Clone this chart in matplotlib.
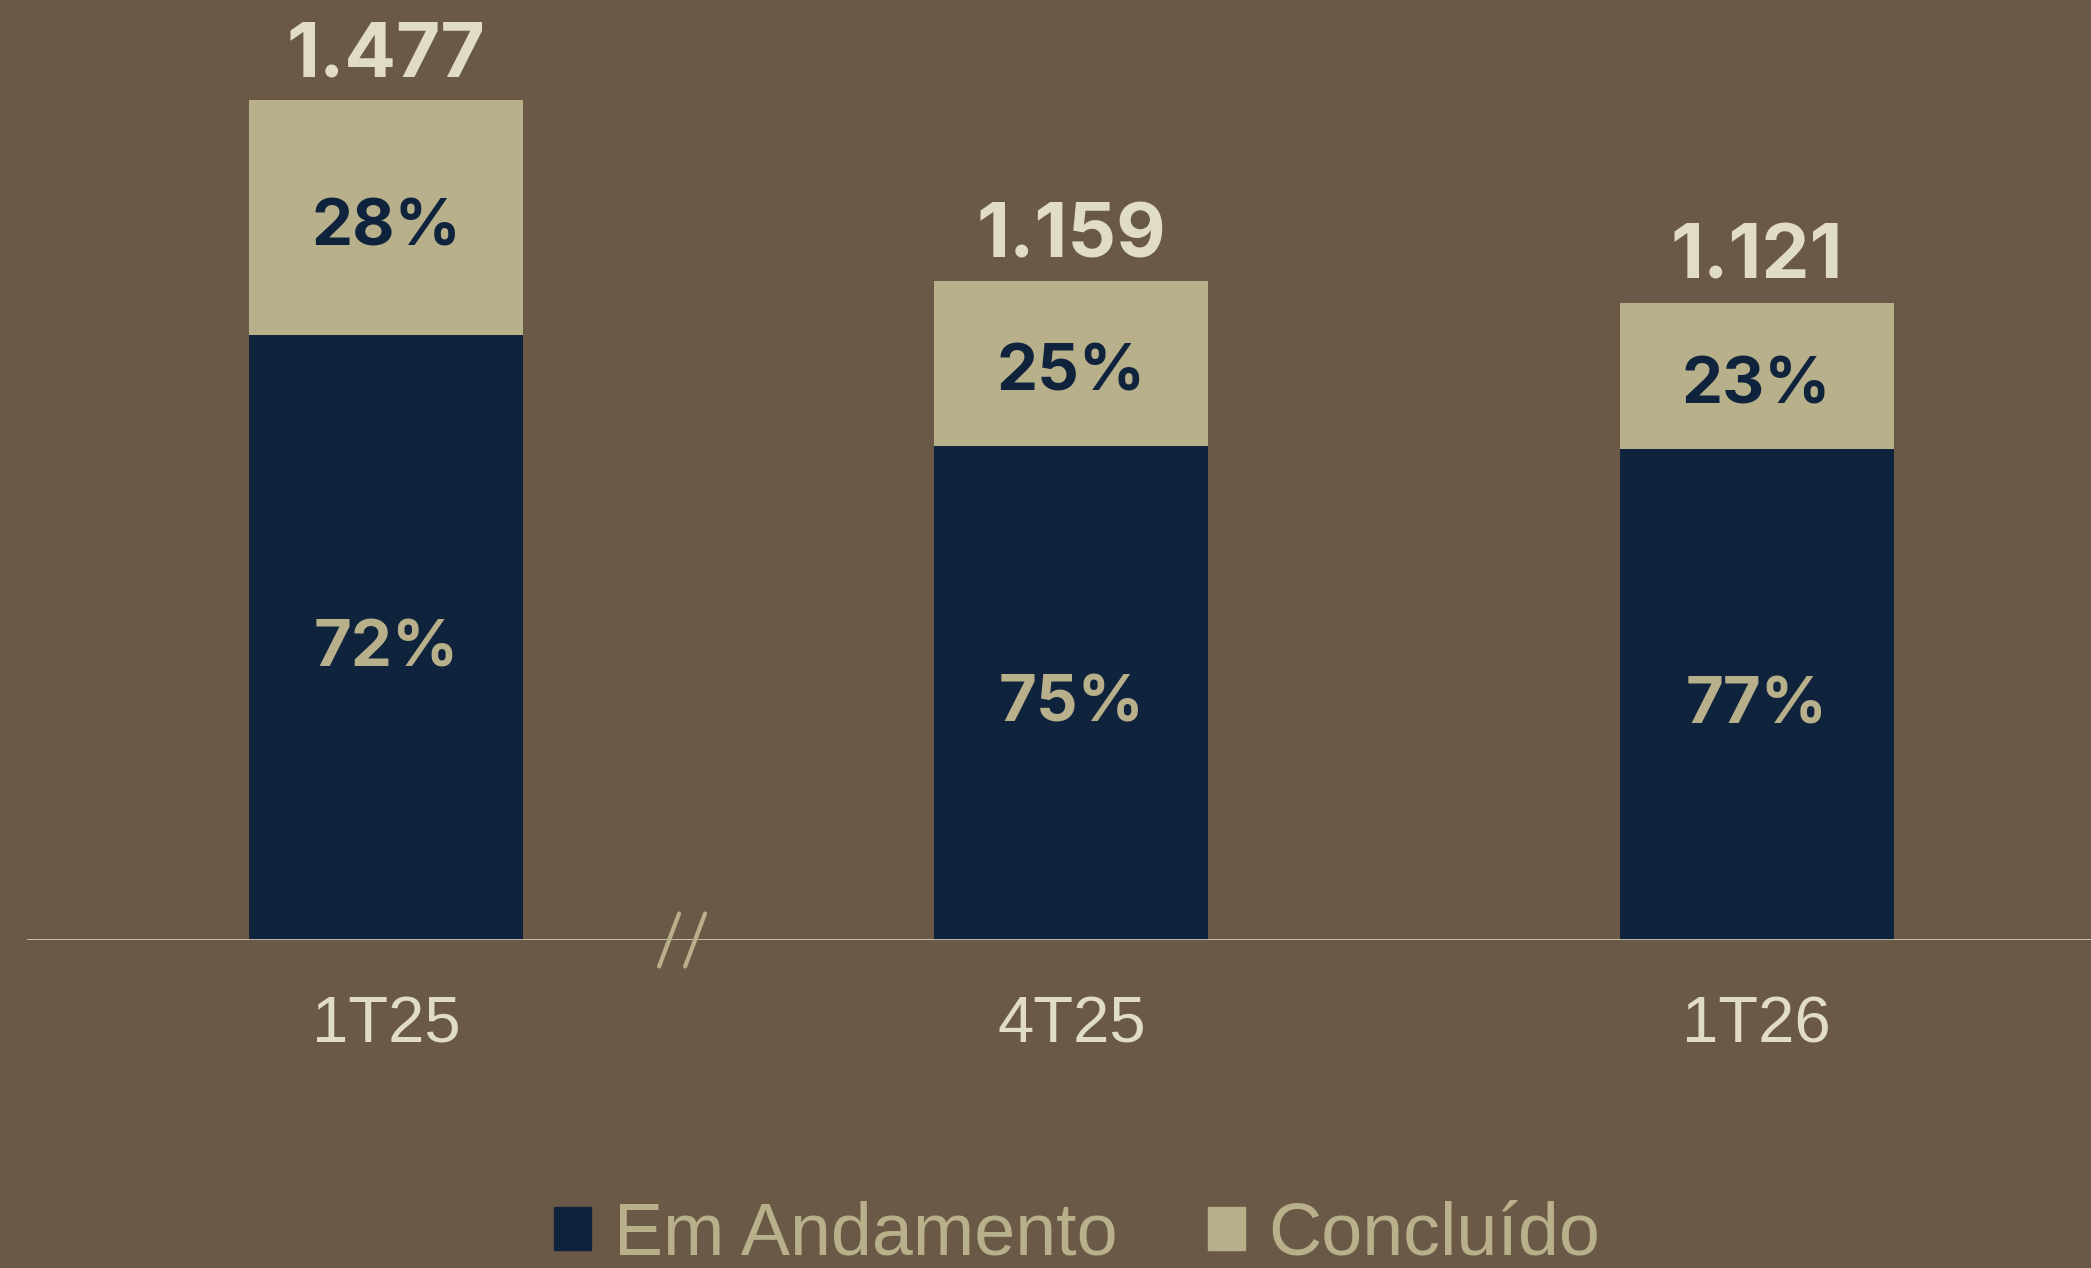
import matplotlib
matplotlib.use("Agg")
import matplotlib.pyplot as plt
from matplotlib.patches import Patch
from matplotlib.transforms import ScaledTranslation

# data
categories = ["1T25", "4T25", "1T26"]
totals = [1477, 1159, 1121]
pct_andamento = [72, 75, 77]
pct_concluido = [28, 25, 23]
total_labels = ["1.477", "1.159", "1.121"]
legend_labels = ["Em Andamento", "Concluído"]

BG = "#6A5946"
NAVY = "#0F233D"
BEIGE = "#B8B08A"
LIGHT = "#E1DCC4"

fig = plt.figure(figsize=(20.91, 12.68), dpi=100, facecolor=BG)
ax = fig.add_axes([27 / 2091, 328 / 1268, 1 - 27 / 2091, 940 / 1268])
ax.set_facecolor(BG)

x = list(range(len(categories)))
andamento = [t * p / 100 for t, p in zip(totals, pct_andamento)]
concluido = [t - a for t, a in zip(totals, andamento)]

ax.bar(x, andamento, width=0.4, color=NAVY, zorder=2)
ax.bar(x, concluido, width=0.4, bottom=andamento, color=BEIGE, zorder=2)

ax.set_xlim(-0.524, 2.488)
ax.set_ylim(0, 1653)
ax.axhline(0, color="#D8D2B8", lw=1.2, zorder=3)

for s in ax.spines.values():
    s.set_visible(False)
ax.set_yticks([])
ax.set_xticks(x)
ax.set_xticklabels(categories, fontsize=47, color=LIGHT, family="Liberation Sans")
ax.tick_params(axis="x", length=0, pad=40)

bold = dict(family=["Inter", "DejaVu Sans"], fontweight="bold")
for i in x:
    ax.annotate(total_labels[i], (i, totals[i]), xytext=(0, 17), textcoords="offset points",
                ha="center", va="baseline", fontsize=55, color=LIGHT, **bold)
    ax.annotate(f"{pct_andamento[i]}%", (i, andamento[i] / 2), xytext=(0, -4),
                textcoords="offset points", ha="center", va="center_baseline",
                fontsize=47, color=BEIGE, **bold)
    ax.annotate(f"{pct_concluido[i]}%", (i, andamento[i] + concluido[i] / 2), xytext=(0, -3),
                textcoords="offset points", ha="center", va="center_baseline",
                fontsize=47, color=NAVY, **bold)

# axis break mark "//" (offsets in inches around a point on the baseline)
brk = fig.dpi_scale_trans + ScaledTranslation(0.432, 0, ax.transData)
for dx in (-0.13, 0.13):
    ax.plot([dx - 0.1, dx + 0.1], [-0.265, 0.265], color=BEIGE, lw=3,
            solid_capstyle="round", transform=brk, zorder=4, clip_on=False)

handles = [Patch(color=NAVY), Patch(color=BEIGE)]
leg = fig.legend(handles, legend_labels, loc="center", bbox_to_anchor=(0.515, 0.026),
                 ncol=2, frameon=False, handlelength=0.51, handleheight=0.51,
                 handletextpad=0.31, columnspacing=1.22, borderpad=0,
                 prop={"family": "Liberation Sans", "size": 53})
for t in leg.get_texts():
    t.set_color(BEIGE)

fig.savefig("out.png", dpi=100, facecolor=BG)
